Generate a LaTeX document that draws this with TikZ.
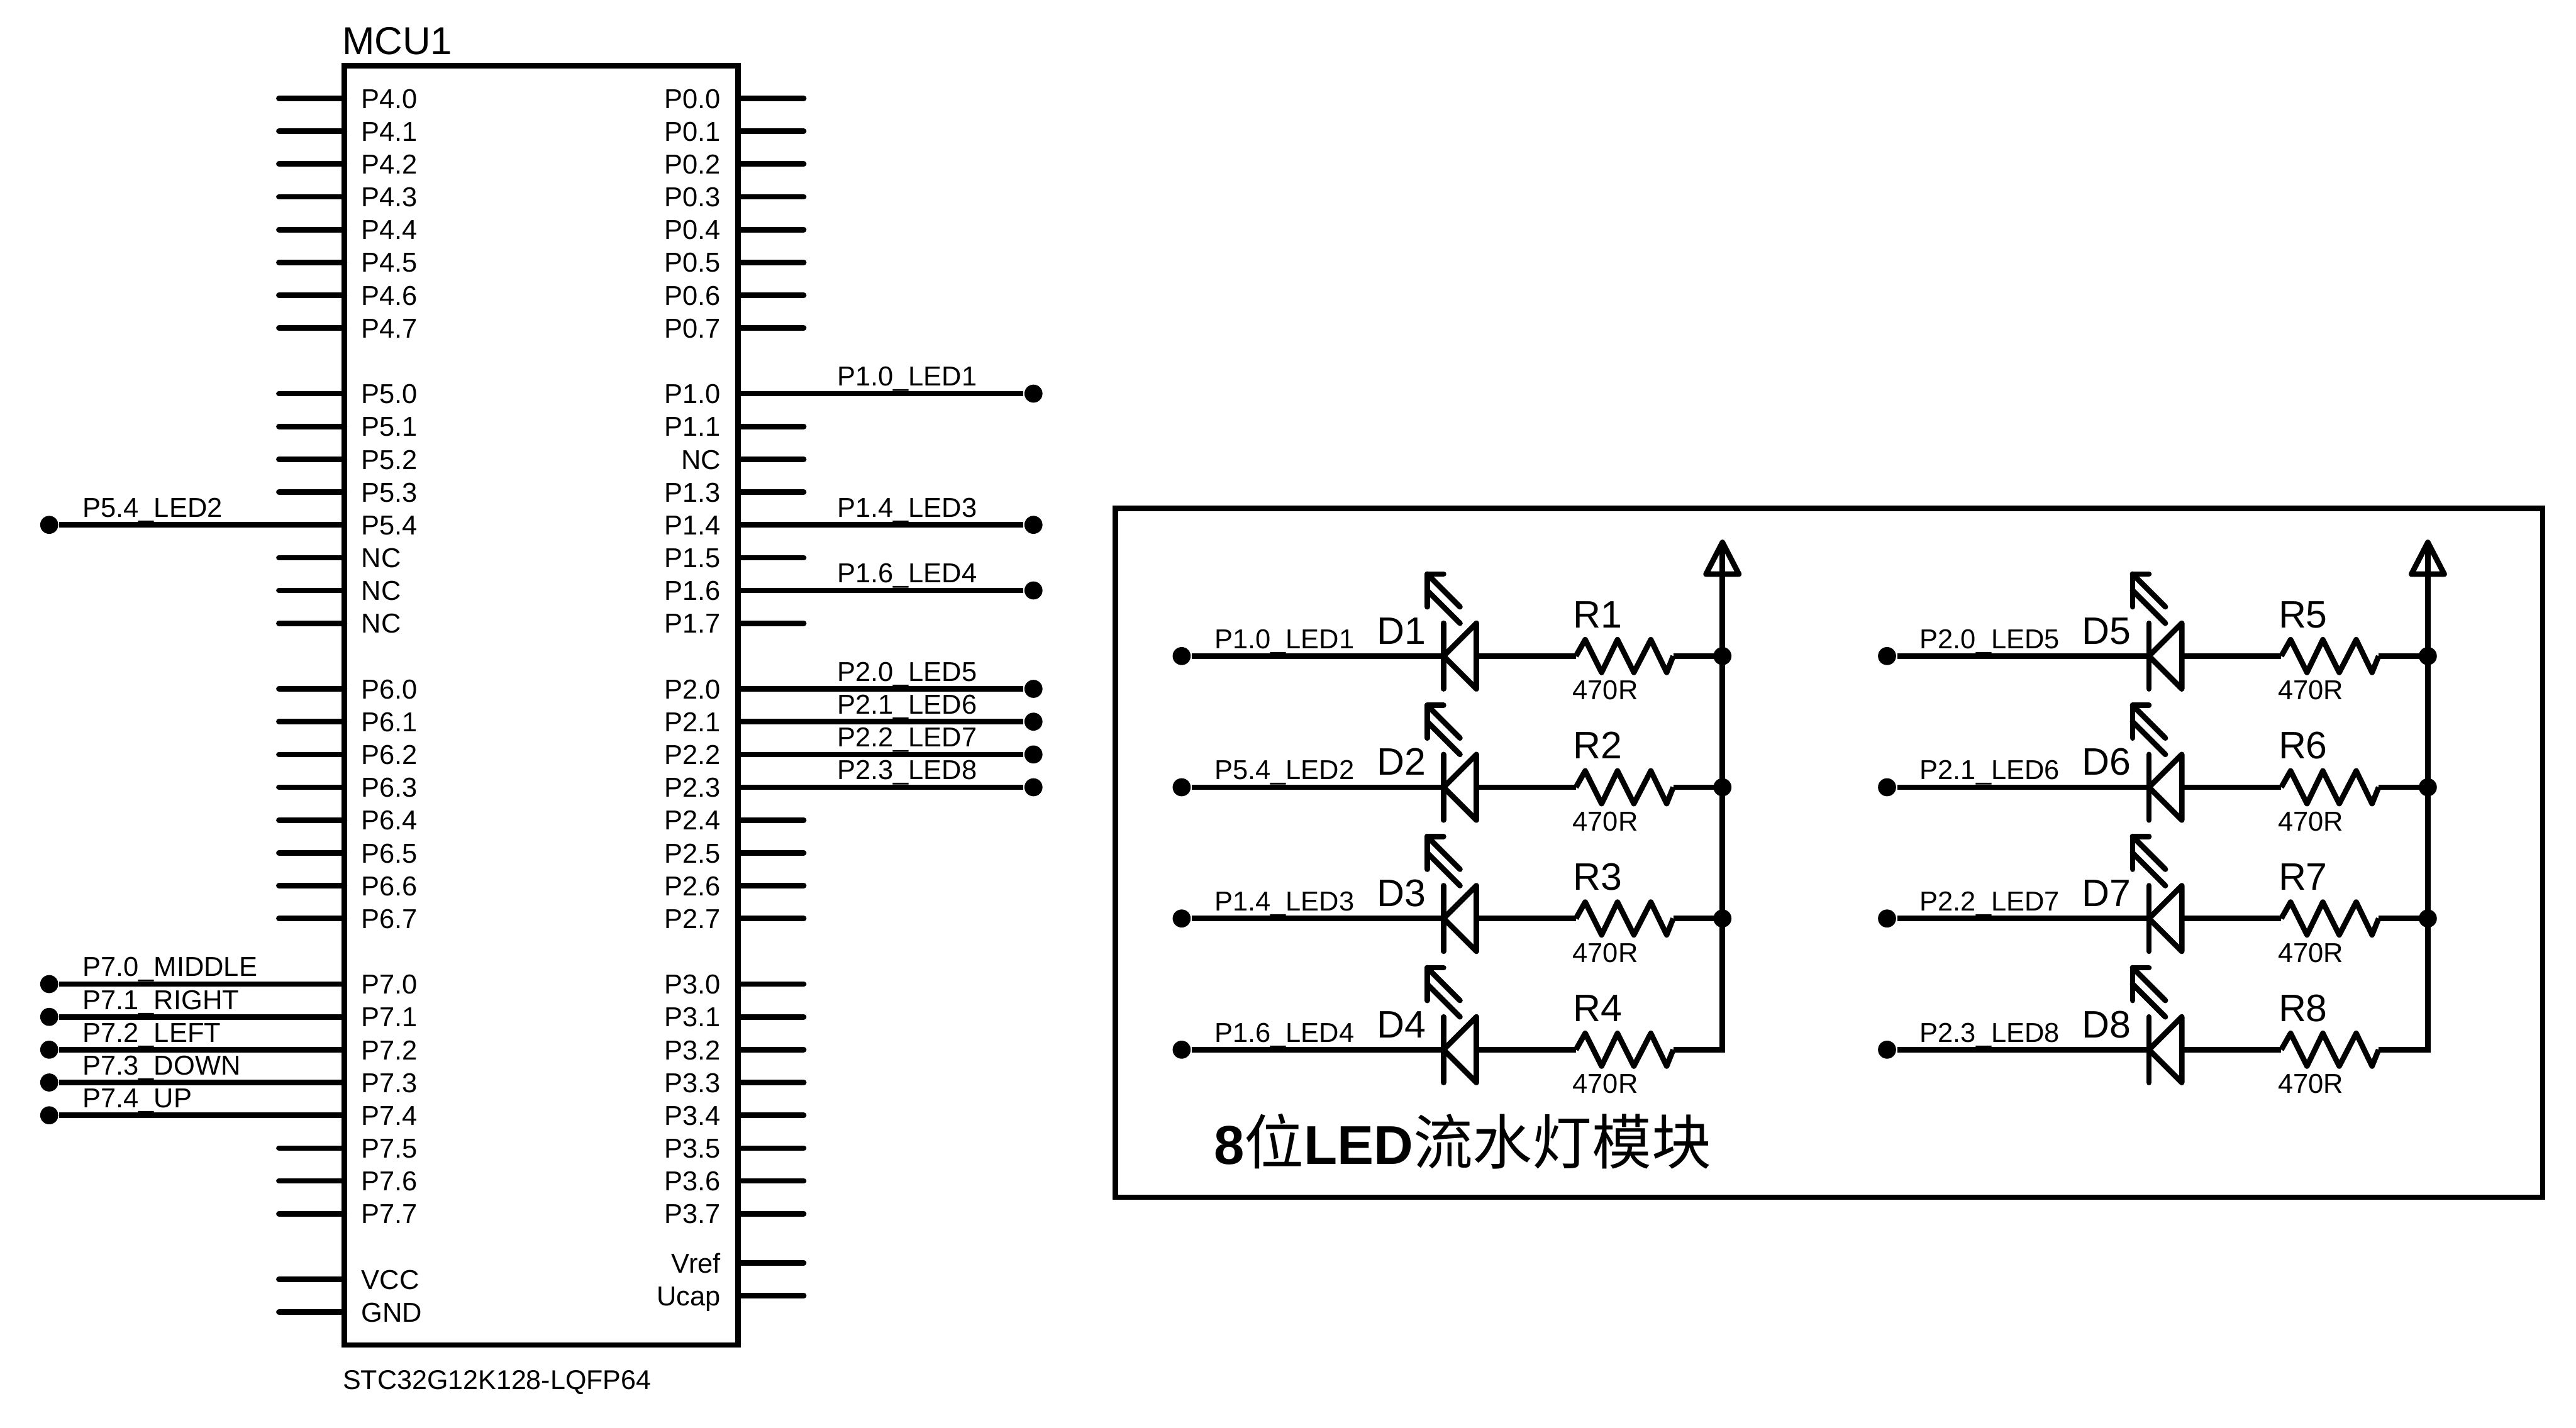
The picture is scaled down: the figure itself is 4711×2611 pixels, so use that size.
\documentclass[tikz,border=0pt]{standalone}
\usepackage{fontspec}
\setmainfont{Liberation Sans}
\newfontfamily\cjkfont{Noto Sans CJK SC}
\tikzset{
  pinwire/.style={line width=1pt,line cap=round},
  netwire/.style={line width=1pt,line cap=butt},
  boxline/.style={line width=1pt,line join=miter},
  pintext/.style={inner sep=0pt,font=\fontsize{5}{5}\selectfont},
  reftext/.style={inner sep=0pt,font=\fontsize{7}{7}\selectfont},
  valtext/.style={inner sep=0pt,font=\fontsize{5}{5}\selectfont},
  dotnode/.style={circle,fill=black,inner sep=0pt,minimum size=3.3pt},
  ledline/.style={line width=1pt,line cap=round,line join=round},
  resline/.style={line width=1pt,line join=round},
  railline/.style={line width=1pt},
}
\newcommand{\leftpin}[2]{%
  \node[pintext,anchor=base west] (LT#1) at (659,#1+18) {#2};
  \coordinate (LA#1) at (630,#1);
  \coordinate (LB#1) at (510,#1);
  \draw[pinwire] (LA#1) -- (LB#1);}
\newcommand{\rightpin}[2]{%
  \node[pintext,anchor=base east] (RT#1) at (1320,#1+18) {#2};
  \coordinate (RA#1) at (1350,#1);
  \coordinate (RB#1) at (1470,#1);
  \draw[pinwire] (RA#1) -- (RB#1);}
\newcommand{\leftnet}[3]{%
  \node[pintext,anchor=base west] (LT#1) at (659,#1+18) {#2};
  \coordinate (LA#1) at (630,#1);
  \node[dotnode] (LD#1) at (90,#1) {};
  \draw[netwire] (LA#1) -- (LD#1);
  \node[pintext,anchor=base west] (LN#1) at (149,#1-14) {#3};}
\newcommand{\rightnet}[3]{%
  \node[pintext,anchor=base east] (RT#1) at (1320,#1+18) {#2};
  \coordinate (RA#1) at (1350,#1);
  \node[dotnode] (RD#1) at (1890,#1) {};
  \draw[netwire] (RA#1) -- (RD#1);
  \node[pintext,anchor=base west] (RN#1) at (1529,#1-14) {#3};}
% #1 id, #2 x offset, #3 y, #4 net, #5 D, #6 R
\newcommand{\ledrow}[6]{%
  \begin{scope}[shift={(#2,#3)}]
    \node[dotnode] (in#1) at (2161,0) {};
    \coordinate (k#1) at (2640,0);
    \coordinate (a#1) at (2700,0);
    \coordinate (rs#1) at (2882,0);
    \coordinate (re#1) at (3060,0);
    \coordinate (rail#1) at (3150,0);
    \node[pintext,anchor=base west] (net#1) at (2219,-14) {#4};
    \node[reftext,anchor=base west] (ref#1) at (2516,-22) {#5};
    \node[reftext,anchor=base west] (res#1) at (2875,-52) {#6};
    \node[valtext,anchor=base west] (val#1) at (2874,80) {470R};
    \draw[netwire] (in#1) -- (k#1);
    \draw[netwire] (a#1) -- (rs#1);
    \draw[netwire] (re#1) -- (rail#1);
    \draw[ledline] (2640,-60) -- (2640,60);
    \draw[ledline] (k#1) -- (2700,-60) -- (2700,60) -- cycle;
    \draw[ledline] (2640,-150) -- (2610,-150) -- (2610,-90);
    \draw[ledline] (2610,-150) -- (2670,-90);
    \draw[ledline] (2610,-120) -- (2670,-60);
    \draw[resline] (rs#1) -- (2899,-30) -- (2929,30) -- (2958,-30) -- (2988,30) -- (3019,-30) -- (3048,30) -- (re#1);
  \end{scope}}
\begin{document}
\begin{tikzpicture}[x=0.1pt,y=-0.1pt]
\useasboundingbox (0,0) rectangle (4711,2611);
% MCU body
\coordinate (mcuTL) at (630,120);
\coordinate (mcuBR) at (1350,2460);
\draw[boxline] (mcuTL) rectangle (mcuBR);
\node[inner sep=0pt,anchor=base west,font=\fontsize{7.1}{8}\selectfont] (mcuname) at (624,99) {MCU1};
\node[inner sep=0pt,anchor=base west,font=\fontsize{4.95}{5}\selectfont] (mcupart) at (625,2541) {STC32G12K128-LQFP64};
% left pins
\leftpin{180}{P4.0}\leftpin{240}{P4.1}\leftpin{300}{P4.2}\leftpin{360}{P4.3}
\leftpin{420}{P4.4}\leftpin{480}{P4.5}\leftpin{540}{P4.6}\leftpin{600}{P4.7}
\leftpin{720}{P5.0}\leftpin{780}{P5.1}\leftpin{840}{P5.2}\leftpin{900}{P5.3}
\leftnet{960}{P5.4}{P5.4\_LED2}
\leftpin{1020}{NC}\leftpin{1080}{NC}\leftpin{1140}{NC}
\leftpin{1260}{P6.0}\leftpin{1320}{P6.1}\leftpin{1380}{P6.2}\leftpin{1440}{P6.3}
\leftpin{1500}{P6.4}\leftpin{1560}{P6.5}\leftpin{1620}{P6.6}\leftpin{1680}{P6.7}
\leftnet{1800}{P7.0}{P7.0\_MIDDLE}
\leftnet{1860}{P7.1}{P7.1\_RIGHT}
\leftnet{1920}{P7.2}{P7.2\_LEFT}
\leftnet{1980}{P7.3}{P7.3\_DOWN}
\leftnet{2040}{P7.4}{P7.4\_UP}
\leftpin{2100}{P7.5}\leftpin{2160}{P7.6}\leftpin{2220}{P7.7}
\leftpin{2340}{VCC}\leftpin{2400}{GND}
% right pins
\rightpin{180}{P0.0}\rightpin{240}{P0.1}\rightpin{300}{P0.2}\rightpin{360}{P0.3}
\rightpin{420}{P0.4}\rightpin{480}{P0.5}\rightpin{540}{P0.6}\rightpin{600}{P0.7}
\rightnet{720}{P1.0}{P1.0\_LED1}
\rightpin{780}{P1.1}\rightpin{840}{NC}\rightpin{900}{P1.3}
\rightnet{960}{P1.4}{P1.4\_LED3}
\rightpin{1020}{P1.5}
\rightnet{1080}{P1.6}{P1.6\_LED4}
\rightpin{1140}{P1.7}
\rightnet{1260}{P2.0}{P2.0\_LED5}
\rightnet{1320}{P2.1}{P2.1\_LED6}
\rightnet{1380}{P2.2}{P2.2\_LED7}
\rightnet{1440}{P2.3}{P2.3\_LED8}
\rightpin{1500}{P2.4}\rightpin{1560}{P2.5}\rightpin{1620}{P2.6}\rightpin{1680}{P2.7}
\rightpin{1800}{P3.0}\rightpin{1860}{P3.1}\rightpin{1920}{P3.2}\rightpin{1980}{P3.3}
\rightpin{2040}{P3.4}\rightpin{2100}{P3.5}\rightpin{2160}{P3.6}\rightpin{2220}{P3.7}
\rightpin{2310}{Vref}\rightpin{2370}{Ucap}
% module box
\coordinate (boxTL) at (2040,930);
\coordinate (boxBR) at (4650,2190);
\draw[boxline] (boxTL) rectangle (boxBR);
% LED rows
\ledrow{1}{0}{1200}{P1.0\_LED1}{D1}{R1}
\ledrow{2}{0}{1440}{P5.4\_LED2}{D2}{R2}
\ledrow{3}{0}{1680}{P1.4\_LED3}{D3}{R3}
\ledrow{4}{0}{1920}{P1.6\_LED4}{D4}{R4}
\ledrow{5}{1290}{1200}{P2.0\_LED5}{D5}{R5}
\ledrow{6}{1290}{1440}{P2.1\_LED6}{D6}{R6}
\ledrow{7}{1290}{1680}{P2.2\_LED7}{D7}{R7}
\ledrow{8}{1290}{1920}{P2.3\_LED8}{D8}{R8}
% supply rails
\foreach \n/\xx in {A/3150,B/4440}{
  \coordinate (base\n) at (\xx,1050);
  \coordinate (tip\n) at (\xx,992);
  \coordinate (bl\n) at (\xx-30,1050);
  \coordinate (br\n) at (\xx+30,1050);
  \draw[ledline] (tip\n) -- (bl\n) -- (br\n) -- cycle;
}
\draw[railline,line cap=butt,line join=miter] (tipA) -- (rail1) -- (rail2) -- (rail3) -- (rail4) -- (re4);
\draw[railline,line cap=butt,line join=miter] (tipB) -- (rail5) -- (rail6) -- (rail7) -- (rail8) -- (re8);
\node[dotnode] (j1) at (rail1) {};
\node[dotnode] (j2) at (rail2) {};
\node[dotnode] (j3) at (rail3) {};
\node[dotnode] (j5) at (rail5) {};
\node[dotnode] (j6) at (rail6) {};
\node[dotnode] (j7) at (rail7) {};
% title
\node[inner sep=0pt,anchor=base west] (title) at (2218,2130) {\fontsize{10}{12}\selectfont\bfseries 8{\cjkfont\mdseries\fontsize{10.9}{12}\selectfont 位}LED{\cjkfont\mdseries\fontsize{10.9}{12}\selectfont 流水灯模块}};
\end{tikzpicture}
\end{document}
